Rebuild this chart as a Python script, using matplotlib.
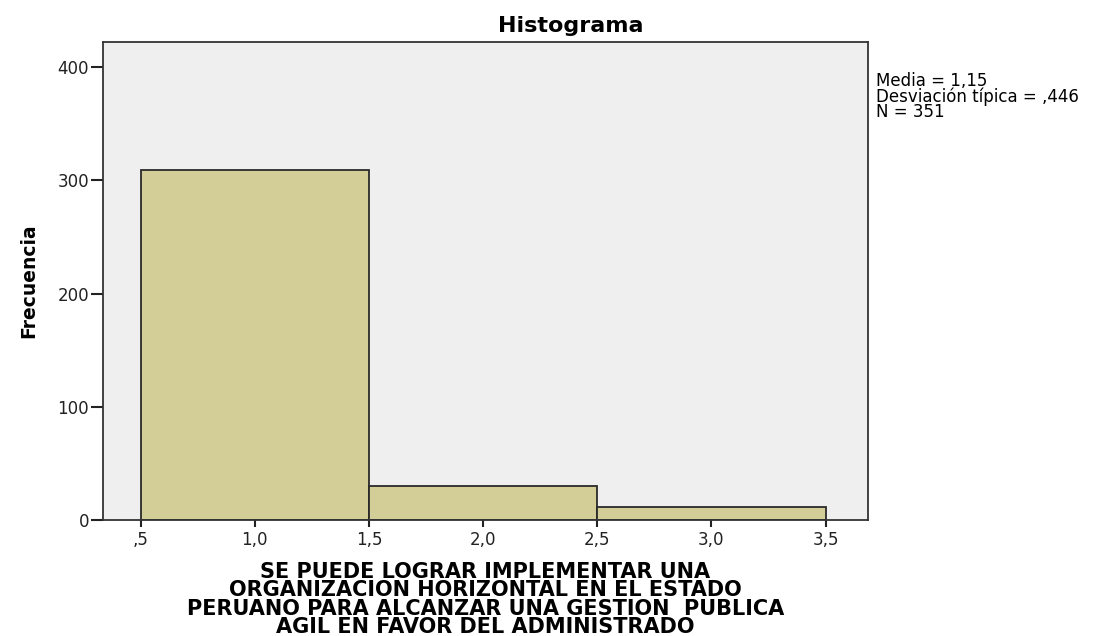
import matplotlib
matplotlib.use('Agg')
import matplotlib.pyplot as plt

bin_edges = [0.5, 1.5, 2.5, 3.5]
counts = [309, 30, 12]
xticks = [0.5, 1.0, 1.5, 2.0, 2.5, 3.0, 3.5]
xtick_labels = [',5', '1,0', '1,5', '2,0', '2,5', '3,0', '3,5']
yticks = [0, 100, 200, 300, 400]
stats_text = 'Media = 1,15\nDesviación típica = ,446\nN = 351'
xlabel = ('SE PUEDE LOGRAR IMPLEMENTAR UNA\nORGANIZACION HORIZONTAL EN EL ESTADO\n'
          'PERUANO PARA ALCANZAR UNA GESTION  PUBLICA\nAGIL EN FAVOR DEL ADMINISTRADO')

plt.rcParams['font.family'] = ['DejaVu Sans']

fig = plt.figure(figsize=(10.94, 6.36), dpi=100)
ax = fig.add_axes([0.094, 0.182, 0.699, 0.752])
ax.set_facecolor('#efefef')

widths = [bin_edges[i + 1] - bin_edges[i] for i in range(len(counts))]
ax.bar(bin_edges[:-1], counts, width=widths, align='edge',
       color='#d3ce98', edgecolor='#2a2a2a', linewidth=1.3)

ax.set_xlim(0.334, 3.684)
ax.set_ylim(0, 422)
ax.set_xticks(xticks)
ax.set_xticklabels(xtick_labels)
ax.set_yticks(yticks)
ax.tick_params(direction='out', width=1.5, labelsize=12, colors='#222222')
ax.tick_params(axis='x', length=5, pad=3)
ax.tick_params(axis='y', length=9, pad=1)
for s in ax.spines.values():
    s.set_color('#333333')
    s.set_linewidth(1.3)

fig.text(0.522, 1 - 32 / 636, 'Histograma', fontsize=16, fontweight='bold',
         ha='center', va='baseline')
ax.set_ylabel('Frecuencia', fontsize=13.5, fontweight='bold', labelpad=14)
ax.set_xlabel(xlabel, fontsize=15, fontweight='bold', linespacing=0.9, labelpad=9)
fig.text(0.801, 1 - 72 / 636, stats_text, fontsize=12, va='top', ha='left',
         linespacing=0.8)

plt.savefig('out.png', dpi=100)
